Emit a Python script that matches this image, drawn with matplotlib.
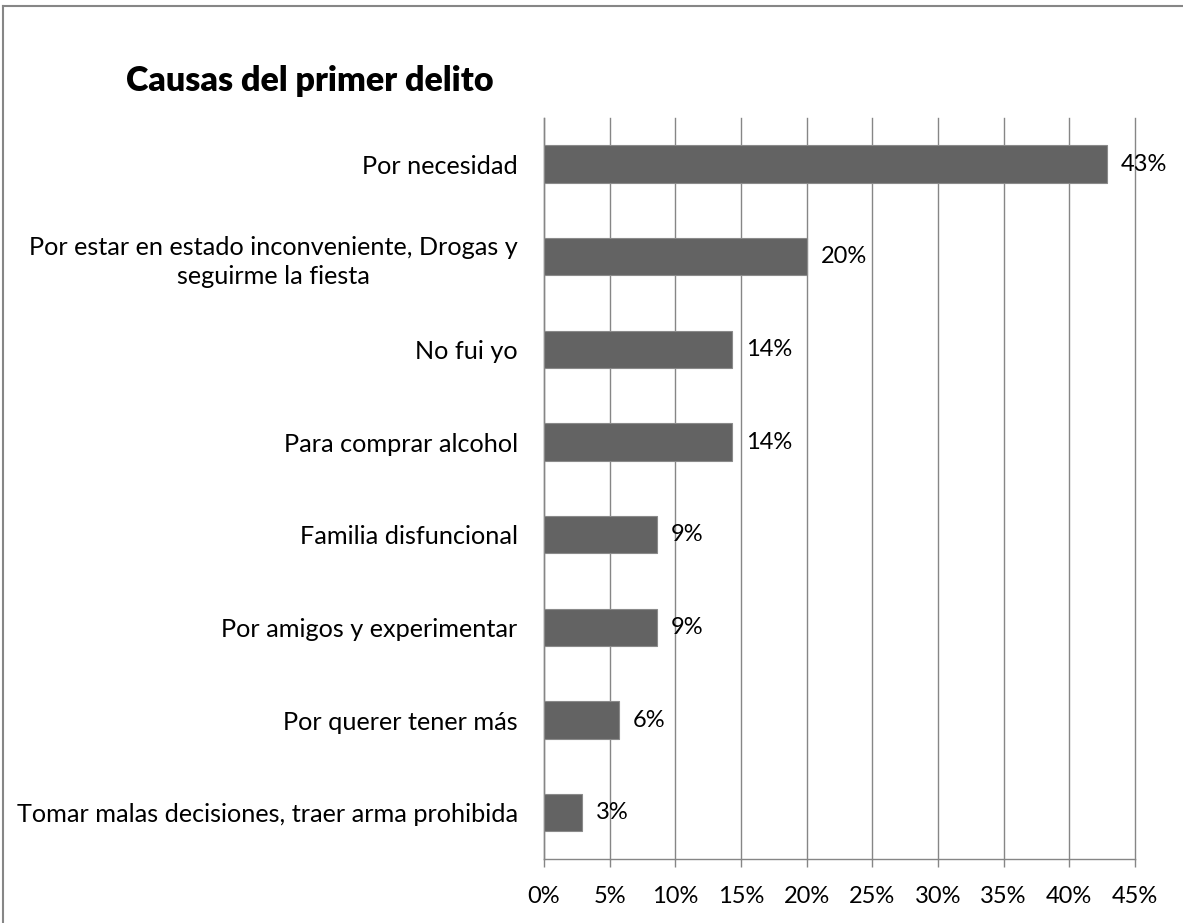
import matplotlib.pyplot as plt
from matplotlib.lines import Line2D

# data (share of answers, %)
causas = [
    "Por necesidad",
    "Por estar en estado inconveniente, Drogas y\nseguirme la fiesta",
    "No fui yo",
    "Para comprar alcohol",
    "Familia disfuncional",
    "Por amigos y experimentar",
    "Por querer tener más",
    "Tomar malas decisiones, traer arma prohibida",
]
porcentajes = [42.86, 20.0, 14.29, 14.29, 8.57, 8.57, 5.71, 2.86]
etiquetas = ["43%", "20%", "14%", "14%", "9%", "9%", "6%", "3%"]
ticks_x = [0, 5, 10, 15, 20, 25, 30, 35, 40, 45]

plt.rcParams['font.family'] = ['Lato', 'DejaVu Sans']

fig = plt.figure(figsize=(11.83, 9.23), dpi=100)
ax = fig.add_axes([0.4599, 0.0693, 0.4995, 0.8032])

pos = list(range(len(causas)))
ax.barh(pos, porcentajes, height=0.4, color="#636363", edgecolor="#8a8a8a",
        linewidth=0.8, zorder=3)
ax.set_ylim(len(causas) - 0.5, -0.5)
ax.set_xlim(0, 45)

# data labels
for p, v, t in zip(pos, porcentajes, etiquetas):
    ax.annotate(t, (v, p), xytext=(10, 0), textcoords="offset points",
                ha="left", va="center", fontsize=17, color="black", zorder=4)

ax.set_yticks(pos)
ax.set_yticklabels(causas, fontsize=18.2, multialignment="center",
                   linespacing=1.35)
ax.tick_params(axis="y", length=0, pad=19)

ax.set_xticks(ticks_x)
ax.set_xticklabels([f"{t}%" for t in ticks_x], fontsize=17)
ax.tick_params(axis="x", length=5.5, width=1.0, color="#868686", pad=14)

ax.grid(axis="x", color="#868686", linewidth=1.0, zorder=1)
for gl in ax.get_xgridlines():
    gl.set_clip_on(False)
for s in ["top", "right"]:
    ax.spines[s].set_visible(False)
for s in ["left", "bottom"]:
    ax.spines[s].set_color("#868686")
    ax.spines[s].set_linewidth(1.0)

fig.text(310 / 1183, 1 - 81 / 923, "Causas del primer delito", fontsize=24.5,
         fontweight="heavy", ha="center", va="center")

# outer border of the chart area
fig.add_artist(Line2D([3 / 1183, 3 / 1183], [-0.1, 1 - 6 / 923],
                      transform=fig.transFigure, color="#868686", linewidth=1.5))
fig.add_artist(Line2D([3 / 1183, 1.1], [1 - 6 / 923, 1 - 6 / 923],
                      transform=fig.transFigure, color="#868686", linewidth=1.5))

fig.savefig("out.png", dpi=100, facecolor="white")
